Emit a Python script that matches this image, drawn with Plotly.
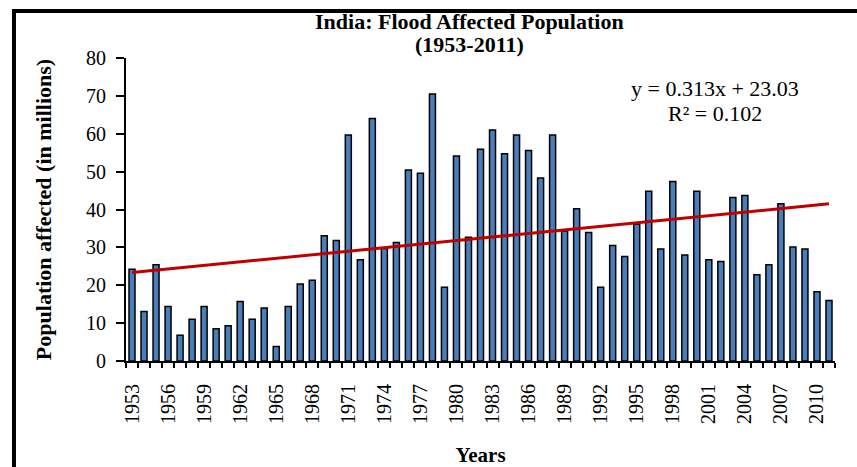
import plotly.graph_objects as go

years = list(range(1953, 2012))
affected = [24.2, 13.1, 25.4, 14.4, 6.8, 11.0, 14.4, 8.5, 9.3, 15.7,
            11.0, 14.0, 3.8, 14.4, 20.3, 21.3, 33.1, 31.8, 59.7, 26.7,
            64.0, 29.7, 31.3, 50.4, 49.6, 70.5, 19.5, 54.1, 32.7, 55.9,
            61.0, 54.7, 59.7, 55.6, 48.3, 59.7, 34.3, 40.2, 33.9, 19.5,
            30.5, 27.6, 36.1, 44.8, 29.6, 47.4, 28.0, 44.8, 26.7, 26.3,
            43.2, 43.7, 22.8, 25.4, 41.5, 30.1, 29.6, 18.3, 16.0]
tick_labels = [str(y) for y in years[::3]]
trend_slope = 0.313
trend_intercept = 23.03

idx = list(range(1, len(years) + 1))
trend_x = [idx[0], idx[-1]]
trend_y = [trend_slope * x + trend_intercept for x in trend_x]

serif = "Liberation Serif, Times New Roman, serif"

fig = go.Figure()
fig.add_trace(go.Bar(
    x=idx, y=affected, width=0.5,
    marker=dict(color="#4A7EBB", line=dict(color="black", width=1.5)),
    showlegend=False, hoverinfo="x+y"))
fig.add_trace(go.Scatter(
    x=trend_x, y=trend_y, mode="lines",
    line=dict(color="#C00000", width=3), showlegend=False))

fig.update_layout(
    width=857, height=467,
    margin=dict(l=126, r=22, t=58, b=106, autoexpand=False),
    paper_bgcolor="white", plot_bgcolor="white",
    font=dict(family=serif, color="black", size=20),
    shapes=[dict(type="rect", xref="paper", yref="paper",
                 x0=-0.158, x1=1.2, y0=-0.5, y1=1.155,
                 line=dict(color="black", width=4), fillcolor="rgba(0,0,0,0)",
                 layer="above")],
    annotations=[
        dict(text="<b>India: Flood Affected Population</b>",
             xref="paper", yref="paper", x=0.485, y=1.119,
             xanchor="center", yanchor="middle", showarrow=False,
             font=dict(size=22, family=serif)),
        dict(text="<b>(1953-2011)</b>",
             xref="paper", yref="paper", x=0.485, y=1.043,
             xanchor="center", yanchor="middle", showarrow=False,
             font=dict(size=22, family=serif)),
        dict(text="y = 0.313x + 23.03",
             xref="paper", yref="paper", x=0.831, y=(361 - 88) / 303,
             xanchor="center", yanchor="middle", showarrow=False,
             font=dict(size=22, family=serif)),
        dict(text="R² = 0.102",
             xref="paper", yref="paper", x=0.831, y=(361 - 113) / 303,
             xanchor="center", yanchor="middle", showarrow=False,
             font=dict(size=22, family=serif)),
    ],
)
fig.update_xaxes(
    range=[0.5, len(years) + 0.5], automargin=False,
    tickvals=idx[::3], ticktext=tick_labels, tickangle=-90,
    ticks="", showgrid=False, zeroline=False,
    showline=True, linecolor="black", linewidth=2,
    minor=dict(tick0=0.5, dtick=1, ticks="outside", ticklen=5,
               tickcolor="black", tickwidth=1.5, showgrid=False),
    ticklabelstandoff=13,
    tickfont=dict(size=20, family=serif),
    title=dict(text="<b>Years</b>", font=dict(size=21, family=serif), standoff=24),
)
fig.update_yaxes(
    range=[0, 80], dtick=10, ticks="outside", ticklen=8, tickwidth=1.5,
    tickcolor="black", showgrid=False, zeroline=False, automargin=False,
    showline=True, linecolor="black", linewidth=2,
    ticklabelstandoff=6,
    tickfont=dict(size=20, family=serif),
    title=dict(text="<b>Population affected (in millions)</b>",
               font=dict(size=22, family=serif), standoff=28),
)

fig.write_html("out.html", config={"displayModeBar": False},
               post_script="document.body.style.margin='0';")
